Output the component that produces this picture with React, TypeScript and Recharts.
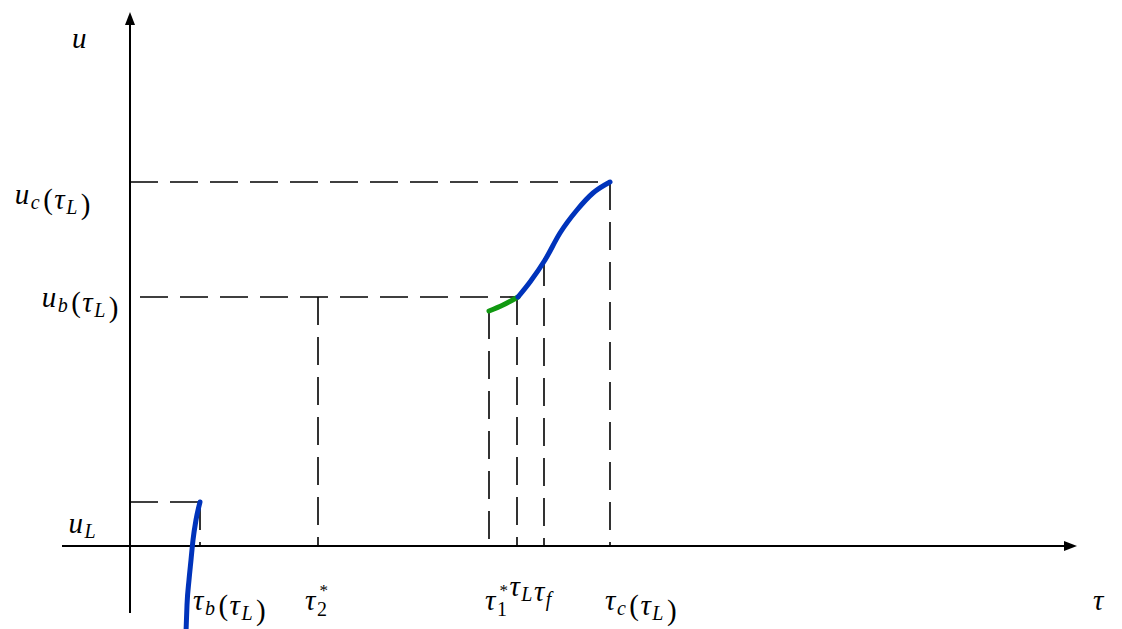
import { LineChart, Line, XAxis, YAxis, ReferenceLine, ReferenceDot } from 'recharts';

// tick positions on the tau axis: tau_b, tau_2*, tau_1*, tau_L, tau_f, tau_c
const tauTicks = [0.7, 1.88, 3.59, 3.87, 4.14, 4.8];
// where each vertical dashed drop starts (top end)
const dropTops = [0.44, 2.49, 2.35, 2.49, 2.88, 3.64];

// u levels: u_L, u_b(tau_L), u_c(tau_L)
const uLevels = [0.44, 2.49, 3.64];
const levelStarts = [0, 0.1, 0];
const levelEnds = [0.7, 3.87, 4.8];

const xAxisRange = [-0.68, 9.47];
const yAxisRange = [-0.67, 5.34];

const leftCurve = [
  { t: 0.56, u: -0.86 },
  { t: 0.57, u: -0.59 },
  { t: 0.59, u: -0.34 },
  { t: 0.61, u: -0.14 },
  { t: 0.63, u: 0.06 },
  { t: 0.66, u: 0.26 },
  { t: 0.7, u: 0.44 },
];

const greenCurve = [
  { t: 3.59, u: 2.35 },
  { t: 3.73, u: 2.41 },
  { t: 3.88, u: 2.49 },
];

const blueCurve = [
  { t: 3.88, u: 2.49 },
  { t: 4.0, u: 2.64 },
  { t: 4.15, u: 2.86 },
  { t: 4.3, u: 3.13 },
  { t: 4.47, u: 3.36 },
  { t: 4.63, u: 3.53 },
  { t: 4.8, u: 3.64 },
];

const FONT = "'Liberation Serif', 'Times New Roman', serif";
const SIZE = 29;
const SUB = 20;

const Sub = ({ s }: { s: string }) => (
  <>
    <tspan fontSize={SUB} dy={5}>{s}</tspan>
    <tspan dy={-5}></tspan>
  </>
);

// subscript with a star stacked above it
const SubSup = ({ sub, sup }: { sub: string; sup: string }) => (
  <>
    <tspan fontSize={SUB} fontStyle="normal" dy={6}>{sub}</tspan>
    <tspan fontSize={17} fontStyle="normal" dx={-9} dy={-20}>{sup}</tspan>
    <tspan dy={14}></tspan>
  </>
);

const P = ({ s }: { s: string }) => <tspan fontStyle="normal" dx={2}>{s}</tspan>;

const label = (dx: number, dy: number, anchor: 'start' | 'end', content: any) => (props: any) => (
  <text
    x={props.cx + dx}
    y={props.cy + dy}
    textAnchor={anchor}
    fontFamily={FONT}
    fontSize={SIZE}
    fontStyle="italic"
    letterSpacing={1.5}
    fill="#000"
  >
    {content}
  </text>
);

const arrow = (dir: 'up' | 'right') => (props: any) => {
  const { cx, cy } = props;
  const pts =
    dir === 'up'
      ? `${cx},${cy} ${cx - 5},${cy + 13} ${cx + 5},${cy + 13}`
      : `${cx},${cy} ${cx - 13},${cy - 5} ${cx - 13},${cy + 5}`;
  return <polygon points={pts} fill="#000" />;
};

const dash = '28 12';

export default function App() {
  return (
    <div style={{ position: 'absolute', left: 0, top: 0, width: 1122, height: 629, background: '#fff' }}>
      <LineChart width={1122} height={629} margin={{ top: 0, right: 0, bottom: 0, left: 0 }}>
        <XAxis type="number" dataKey="t" domain={[-1.3, 9.92]} hide allowDataOverflow />
        <YAxis type="number" dataKey="u" domain={[-0.83, 5.46]} hide allowDataOverflow />

        {/* axes */}
        <ReferenceLine
          segment={[{ x: xAxisRange[0], y: 0 }, { x: xAxisRange[1] - 0.1, y: 0 }]}
          stroke="#000"
          strokeWidth={2}
        />
        <ReferenceLine
          segment={[{ x: 0, y: yAxisRange[0] }, { x: 0, y: yAxisRange[1] - 0.1 }]}
          stroke="#000"
          strokeWidth={2}
        />
        <ReferenceDot x={xAxisRange[1]} y={0} r={0} shape={arrow('right')} />
        <ReferenceDot x={0} y={yAxisRange[1]} r={0} shape={arrow('up')} />

        {/* horizontal dashed levels */}
        {uLevels.map((u, i) => (
          <ReferenceLine
            key={'h' + i}
            segment={[{ x: levelStarts[i], y: u }, { x: levelEnds[i], y: u }]}
            stroke="#000"
            strokeWidth={1.6}
            strokeDasharray={dash}
          />
        ))}

        {/* vertical dashed drops */}
        {tauTicks.map((t, i) => (
          <ReferenceLine
            key={'v' + i}
            segment={[{ x: t, y: dropTops[i] }, { x: t, y: 0 }]}
            stroke="#000"
            strokeWidth={1.6}
            strokeDasharray={dash}
          />
        ))}

        <Line data={leftCurve} dataKey="u" type="monotone" stroke="#0033bb" strokeWidth={5} strokeLinecap="round" dot={false} activeDot={false} isAnimationActive={false} />
        <Line data={greenCurve} dataKey="u" type="monotone" stroke="#119911" strokeWidth={5} strokeLinecap="round" dot={false} activeDot={false} isAnimationActive={false} />
        <Line data={blueCurve} dataKey="u" type="monotone" stroke="#0033bb" strokeWidth={5} strokeLinecap="round" dot={false} activeDot={false} isAnimationActive={false} />

        {/* labels */}
        <ReferenceDot x={0} y={yAxisRange[1]} r={0} shape={label(-58, 36, 'start', 'u')} />
        <ReferenceDot
          x={0}
          y={uLevels[2]}
          r={0}
          shape={label(-38, 22, 'end', <>u<Sub s="c" /><P s="(" />τ<Sub s="L" /><P s=")" /></>)}
        />
        <ReferenceDot
          x={0}
          y={uLevels[1]}
          r={0}
          shape={label(-10, 10, 'end', <>u<Sub s="b" /><P s="(" />τ<Sub s="L" /><P s=")" /></>)}
        />
        <ReferenceDot x={0} y={0} r={0} shape={label(-33, -13, 'end', <>u<Sub s="L" /></>)} />
        <ReferenceDot
          x={tauTicks[0]}
          y={0}
          r={0}
          shape={label(-7, 64, 'start', <>τ<Sub s="b" /><P s="(" />τ<Sub s="L" /><P s=")" /></>)}
        />
        <ReferenceDot
          x={tauTicks[1]}
          y={0}
          r={0}
          shape={label(-13, 64, 'start', <>τ<SubSup sub="2" sup="*" /></>)}
        />
        <ReferenceDot
          x={tauTicks[2]}
          y={0}
          r={0}
          shape={label(-4, 64, 'start', <>τ<SubSup sub="1" sup="*" />τ<Sub s="L" />τ<Sub s="f" /></>)}
        />
        <ReferenceDot
          x={tauTicks[5]}
          y={0}
          r={0}
          shape={label(-5, 64, 'start', <>τ<Sub s="c" /><P s="(" />τ<Sub s="L" /><P s=")" /></>)}
        />
        <ReferenceDot x={xAxisRange[1]} y={0} r={0} shape={label(16, 64, 'start', 'τ')} />
      </LineChart>
    </div>
  );
}
